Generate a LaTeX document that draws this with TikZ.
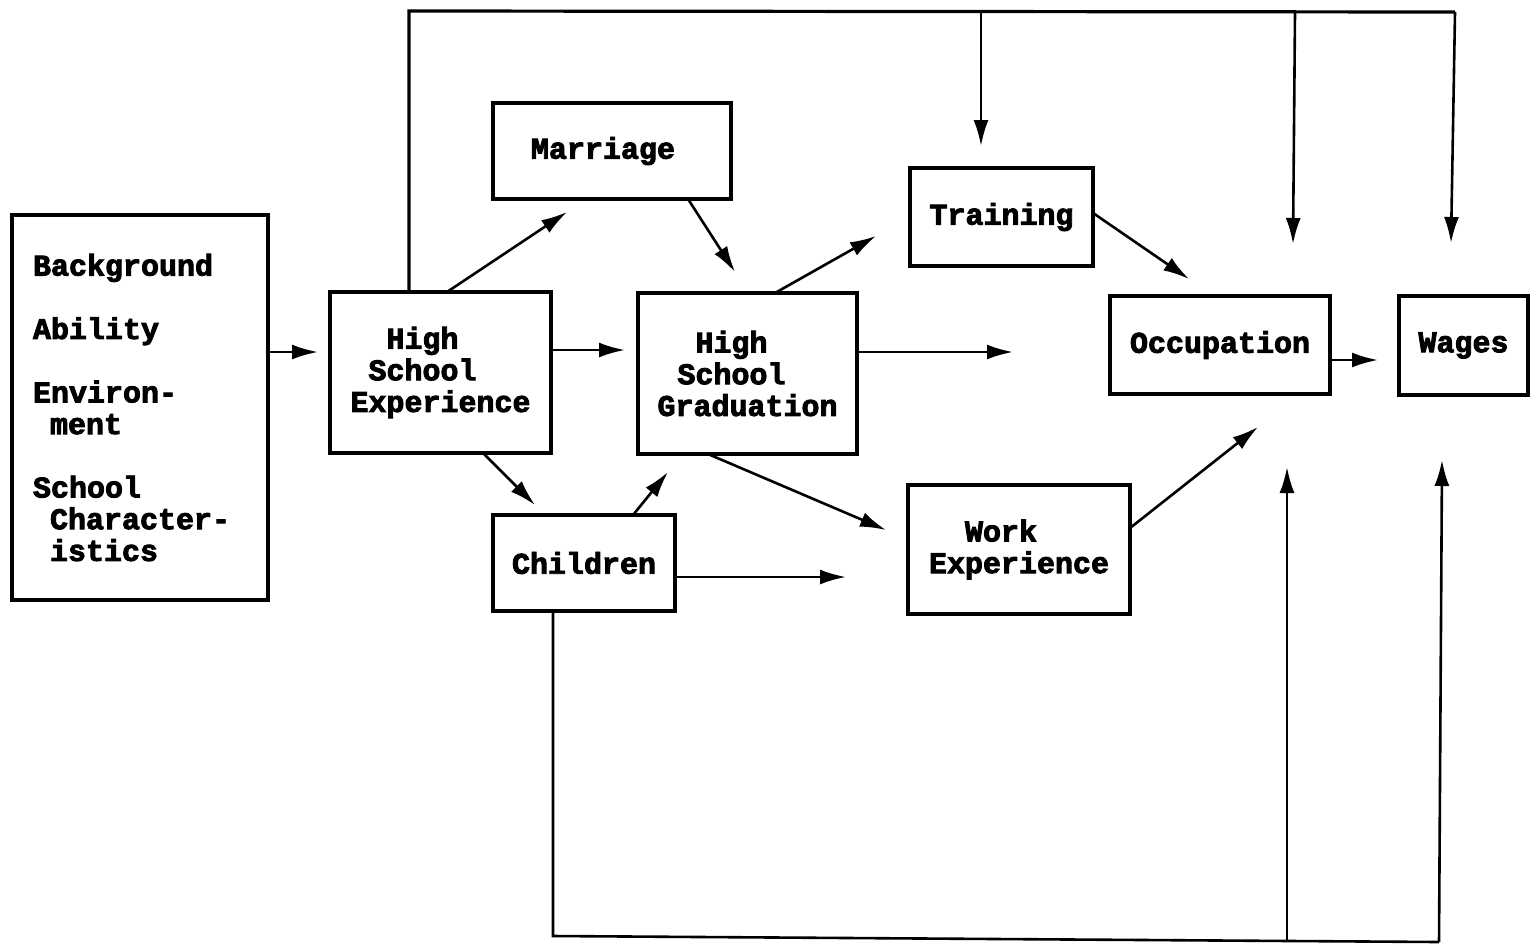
\documentclass[tikz,border=0pt]{standalone}
\usepackage{fontspec}
\newfontfamily\tw{Liberation Mono}[BoldFeatures={FakeBold=3}]
\usetikzlibrary{arrows.meta}
\begin{document}
\begin{tikzpicture}[x=1pt,y=-1pt,
  box/.style={draw, line width=3.4pt, rectangle, inner sep=0pt, outer sep=0pt,
    font=\tw\bfseries\fontsize{30}{31.7}\selectfont},
  ln/.style={line width=2.6pt},
  arr/.style={line width=2.6pt, -{Latex[length=26pt,width=15pt]}}]
\useasboundingbox (0,0) rectangle (1530,948);

% boxes
\node[box, minimum height=385pt, text width=214pt, inner xsep=21pt, align=left] (bg) at (140,407.5)
  {Background\\[31.7pt]Ability\\[31.7pt]Environ-\\\hspace*{17pt}ment\\[31.7pt]School\\\hspace*{17pt}Character-\\\hspace*{17pt}istics};
\node[box, minimum width=221pt, minimum height=161pt, align=left] (hse) at (440.5,372.5)
  {\hspace*{36pt}High\\\hspace*{18pt}School\\Experience};
\node[box, minimum width=238pt, minimum height=96pt] (mar) at (612,151) {Marriage\hspace*{18pt}};
\node[box, minimum width=219pt, minimum height=161pt, align=left] (hsg) at (747.5,373.5)
  {\hspace*{38pt}High\\\hspace*{20pt}School\\Graduation};
\node[box, minimum width=182pt, minimum height=96pt] (chi) at (584,563) {Children};
\node[box, minimum width=183pt, minimum height=98pt] (tra) at (1001.5,217) {Training};
\node[box, minimum width=222pt, minimum height=129pt, align=left] (wex) at (1019,549.5)
  {\hspace*{36pt}Work\\Experience};
\node[box, minimum width=220pt, minimum height=98pt] (occ) at (1220,345) {Occupation};
\node[box, minimum width=129pt, minimum height=99pt] (wag) at (1463.5,345.5) {Wages};

% free ends of connectors
\coordinate (e1) at (318,352);
\coordinate (e2) at (625,350);
\coordinate (e3) at (567,212);
\coordinate (e4) at (735,272);
\coordinate (e5) at (535,505);
\coordinate (e6) at (668,472);
\coordinate (e7) at (876,236);
\coordinate (e8) at (1013,352);
\coordinate (e9) at (886,530);
\coordinate (e10) at (846,577);
\coordinate (e11) at (1189,279);
\coordinate (e12) at (1258,427);
\coordinate (e13) at (1378,360);

% start points on boxes
\coordinate (s3) at (447,0);
\coordinate (s4) at (688,0);
\coordinate (s5) at (483,0);
\coordinate (s6) at (633,0);
\coordinate (s7) at (775,0);
\coordinate (s9) at (708,0);
\coordinate (s11) at (0,213);
\coordinate (s12) at (0,528);

\draw[arr] (bg.east |- e1) -- (e1);
\draw[arr] (hse.east |- e2) -- (e2);
\draw[arr] (hse.north -| s3) -- (e3);
\draw[arr] (mar.south -| s4) -- (e4);
\draw[arr] (hse.south -| s5) -- (e5);
\draw[arr] (chi.north -| s6) -- (e6);
\draw[arr] (hsg.north -| s7) -- (e7);
\draw[arr] (hsg.east |- e8) -- (e8);
\draw[arr] (hsg.south -| s9) -- (e9);
\draw[arr] (chi.east |- e10) -- (e10);
\draw[arr] (tra.east |- s11) -- (e11);
\draw[arr] (wex.east |- s12) -- (e12);
\draw[arr] (occ.east |- e13) -- (e13);

% top feedback line
\coordinate (tl) at (409,11);
\coordinate (t1) at (981,11);
\coordinate (t1e) at (981,146);
\coordinate (t2) at (1295,12);
\coordinate (t2e) at (1293,244);
\coordinate (tr) at (1455,12);
\coordinate (t3e) at (1451,243);
\draw[ln, line width=3.2pt] (hse.north -| tl) -- (tl) -- (tr);
\draw[arr] (tr) -- (t3e);
\draw[arr] (t1) -- (t1e);
\draw[arr] (t2) -- (t2e);

% bottom line
\coordinate (bl) at (553,936);
\coordinate (b1) at (1287,940);
\coordinate (b1e) at (1287,467);
\coordinate (br) at (1439,942);
\coordinate (b2e) at (1442,460);
\draw[ln] (chi.south -| bl) -- (bl) -- (br);
\draw[arr] (br) -- (b2e);
\draw[arr] (b1) -- (b1e);
\end{tikzpicture}
\end{document}
